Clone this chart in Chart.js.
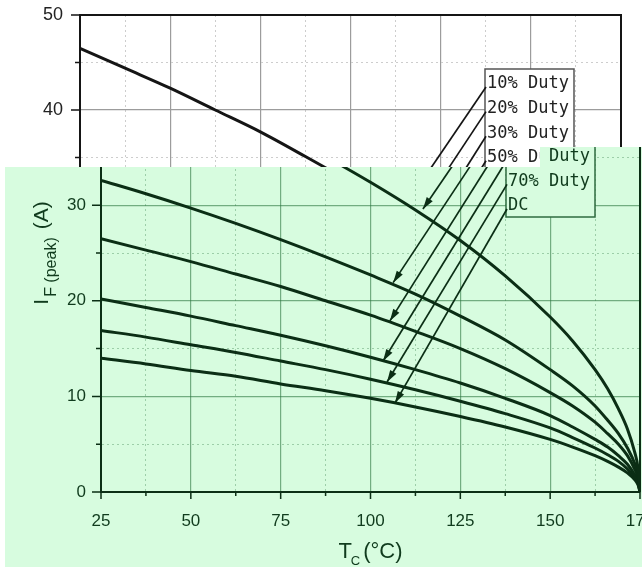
<!DOCTYPE html>
<html>
<head>
<meta charset="utf-8">
<script src="https://cdn.jsdelivr.net/npm/chart.js@4.4.1/dist/chart.umd.min.js"></script>
<style>
  html, body { margin: 0; padding: 0; background: #ffffff; }
  #wrap { position: relative; width: 642px; height: 567px; overflow: hidden; background: #ffffff; }
  #topChart, #mainChart { position: absolute; left: 0; top: 0; }
  /* the green copy only shows below the white strip, with a notch under "50% Du" */
  #mainChart { clip-path: polygon(5px 167px, 540px 167px, 540px 147px, 700px 147px, 700px 567px, 5px 567px); }
</style>
</head>
<body>
<div id="wrap">
  <canvas id="topChart" width="642" height="567"></canvas>
  <canvas id="mainChart" width="700" height="567"></canvas>
</div>
<script>
/* -------------------------------------------------------
 * DATA
 * ----------------------------------------------------- */
const tempC  = [25, 37.5, 50, 62.5, 75, 87.5, 100, 112.5, 125, 137.5, 150, 156.25, 162.5, 166, 169, 171.5, 173.5, 174.5, 175];
const duty10 = [46.5, 44.4, 42.3, 40.0, 37.7, 35.1, 32.4, 29.5, 26.3, 22.6, 18.3, 15.8, 12.8, 10.8, 8.7, 6.6, 4.2, 2.4, 0];
const duty20 = [32.6, 31.2, 29.7, 28.1, 26.4, 24.6, 22.7, 20.7, 18.4, 15.9, 12.8, 11.1, 9.0, 7.5, 6.1, 4.6, 3.0, 1.7, 0];
const duty30 = [26.5, 25.3, 24.1, 22.8, 21.5, 20.0, 18.5, 16.8, 15.0, 12.9, 10.4, 9.0, 7.3, 6.1, 5.0, 3.8, 2.4, 1.4, 0];
const duty50 = [20.2, 19.3, 18.4, 17.4, 16.4, 15.3, 14.1, 12.8, 11.4, 9.8, 8.0, 6.8, 5.5, 4.7, 3.8, 2.9, 1.8, 1.0, 0];
const duty70 = [16.9, 16.2, 15.4, 14.6, 13.7, 12.8, 11.8, 10.7, 9.5, 8.2, 6.7, 5.7, 4.6, 3.9, 3.2, 2.4, 1.5, 0.9, 0];
const dutyDC = [14.0, 13.4, 12.7, 12.1, 11.3, 10.6, 9.8, 8.9, 7.9, 6.8, 5.5, 4.7, 3.8, 3.2, 2.6, 2.0, 1.3, 0.7, 0];

const seriesLabels = ["10% Duty", "20% Duty", "30% Duty", "50% Duty", "70% Duty", "DC"];
const seriesData = [duty10, duty20, duty30, duty50, duty70, dutyDC];
// where each legend arrow lands (Tc, A)
const arrowTips = [[114.6, 29.6], [106.3, 21.9], [105.4, 17.9], [103.5, 13.7], [104.6, 11.5], [106.8, 9.3]];

const xMin = 25, xMax = 175, xStep = 12.5;
const yMin = 0, yMax = 50, yStep = 5;

const isMajorX = v => Math.abs(v % 25) < 1e-6;
const isMajorY = v => Math.abs(v % 10) < 1e-6;

/* -------------------------------------------------------
 * DECOR PLUGIN (background, frame, ticks, legend arrows, titles)
 * ----------------------------------------------------- */
const decorPlugin = {
    id: "decor",
    beforeDraw(chart, args, o) {
        const ctx = chart.ctx;
        ctx.save();
        ctx.fillStyle = o.bg;
        ctx.fillRect(0, 0, chart.width, chart.height);
        ctx.restore();
    },
    afterDatasetsDraw(chart, args, o) {
        const { ctx, chartArea: a, scales: { x, y } } = chart;
        ctx.save();

        // top + right frame
        ctx.strokeStyle = o.ink;
        ctx.lineWidth = 2;
        ctx.beginPath();
        ctx.moveTo(a.left, a.top);
        ctx.lineTo(a.right, a.top);
        ctx.lineTo(a.right, a.bottom);
        ctx.stroke();

        // outward ticks, minor ones shorter
        ctx.lineWidth = 1.5;
        ctx.beginPath();
        y.ticks.forEach(t => {
            const py = y.getPixelForValue(t.value);
            const len = isMajorY(t.value) ? 9 : 5;
            ctx.moveTo(a.left - len, py);
            ctx.lineTo(a.left, py);
        });
        x.ticks.forEach(t => {
            const px = x.getPixelForValue(t.value);
            const len = isMajorX(t.value) ? 7 : 4;
            ctx.moveTo(px, a.bottom);
            ctx.lineTo(px, a.bottom + len);
        });
        ctx.stroke();

        // legend box with leader arrows
        const boxL = a.left + 405, boxT = a.top + 54, boxW = 89, boxH = 149;
        ctx.fillStyle = o.boxFill;
        ctx.fillRect(boxL, boxT, boxW, boxH);
        ctx.strokeStyle = o.boxStroke;
        ctx.lineWidth = 1.5;
        ctx.strokeRect(boxL, boxT, boxW, boxH);

        ctx.font = '17px "DejaVu Sans Mono", "Liberation Mono", monospace';
        ctx.textBaseline = "middle";
        ctx.textAlign = "left";
        seriesLabels.forEach((label, i) => {
            const cy = boxT + 15 + i * 24.6;
            ctx.fillStyle = o.text;
            ctx.fillText(label, boxL + 2, cy);

            const ax = boxL + 1, ay = cy + 3;
            const tx = x.getPixelForValue(arrowTips[i][0]);
            const ty = y.getPixelForValue(arrowTips[i][1]);
            ctx.strokeStyle = o.ink;
            ctx.lineWidth = 1.7;
            ctx.beginPath();
            ctx.moveTo(ax, ay);
            ctx.lineTo(tx, ty);
            ctx.stroke();

            const len = Math.hypot(tx - ax, ty - ay);
            const dx = (tx - ax) / len, dy = (ty - ay) / len;
            const hl = 12, hw = 3.6;
            ctx.fillStyle = o.ink;
            ctx.beginPath();
            ctx.moveTo(tx, ty);
            ctx.lineTo(tx - dx * hl - dy * hw, ty - dy * hl + dx * hw);
            ctx.lineTo(tx - dx * hl + dy * hw, ty - dy * hl - dx * hw);
            ctx.closePath();
            ctx.fill();
        });

        // y title: I_F(peak) (A)
        ctx.fillStyle = o.text;
        ctx.textBaseline = "alphabetic";
        const fMain = '21px "Liberation Sans", Arial, sans-serif';
        const fSub = '16px "Liberation Sans", Arial, sans-serif';
        ctx.save();
        ctx.translate(a.left - 53, (a.top + a.bottom) / 2);
        ctx.rotate(-Math.PI / 2);
        ctx.font = fMain;
        const wI = ctx.measureText("I").width;
        const wA = ctx.measureText("(A)").width;
        ctx.font = fSub;
        const wS = ctx.measureText("F (peak)").width;
        let px = -(wI + 2 + wS + 8 + wA) / 2;
        ctx.font = fMain;
        ctx.fillText("I", px, 0);
        px += wI + 2;
        ctx.font = fSub;
        ctx.fillText("F (peak)", px, 8);
        px += wS + 8;
        ctx.font = fMain;
        ctx.fillText("(A)", px, 0);
        ctx.restore();

        // x title: T_C (°C)
        const fT = '22px "Liberation Sans", Arial, sans-serif';
        const fC = '13px "Liberation Sans", Arial, sans-serif';
        ctx.font = fT;
        const wT = ctx.measureText("T").width;
        const wU = ctx.measureText("(°C)").width;
        ctx.font = fC;
        const wC = ctx.measureText("C").width;
        let qx = (a.left + a.right) / 2 - (wT - 1 + wC + 3 + wU) / 2;
        const by = a.bottom + 66;
        ctx.font = fT;
        ctx.fillText("T", qx, by);
        qx += wT - 1;
        ctx.font = fC;
        ctx.fillText("C", qx, by + 7);
        qx += wC + 3;
        ctx.font = fT;
        ctx.fillText("(°C)", qx, by);

        ctx.restore();
    }
};

/* -------------------------------------------------------
 * CHART FACTORY
 * ----------------------------------------------------- */
function makeChart(canvasId, th) {
    const datasets = seriesData.map((vals, i) => ({
        label: seriesLabels[i],
        data: tempC.map((t, k) => ({ x: t, y: vals[k] })),
        borderColor: th.ink,
        borderWidth: 3,
        pointRadius: 0,
        fill: false,
        cubicInterpolationMode: "monotone"
    }));

    const tickFont = { family: '"Liberation Sans", Arial, sans-serif', size: th.tickSize };

    return new Chart(document.getElementById(canvasId), {
        type: "line",
        data: { datasets },
        options: {
            responsive: false,
            animation: false,
            layout: { padding: { left: 0, top: th.top, right: th.right, bottom: 0 } },
            plugins: {
                legend: { display: false },
                tooltip: { enabled: false },
                decor: th
            },
            scales: {
                x: {
                    type: "linear",
                    min: xMin, max: xMax,
                    afterFit: s => {
                        s.height = th.xHeight;
                        s.paddingLeft = 0;
                        s.paddingRight = 0;
                    },
                    ticks: {
                        stepSize: xStep, autoSkip: false, maxRotation: 0,
                        padding: 19, color: th.text, font: tickFont,
                        callback: v => isMajorX(v) ? v : ""
                    },
                    grid: {
                        drawTicks: false,
                        color: c => c.tick && isMajorX(c.tick.value) ? th.gridMajor : th.gridMinor,
                        lineWidth: c => c.tick && isMajorX(c.tick.value) ? 1.2 : 1
                    },
                    border: {
                        color: th.ink, width: 2,
                        dash: c => c.tick && !isMajorX(c.tick.value) ? [2, 3] : []
                    }
                },
                y: {
                    min: yMin, max: yMax,
                    afterFit: s => {
                        s.width = th.yWidth;
                        s.paddingTop = 0;
                        s.paddingBottom = 0;
                    },
                    ticks: {
                        stepSize: yStep, autoSkip: false,
                        padding: th.yPad, color: th.text, font: tickFont,
                        callback: v => isMajorY(v) ? v : ""
                    },
                    grid: {
                        drawTicks: false,
                        color: c => c.tick && isMajorY(c.tick.value) ? th.gridMajor : th.gridMinor,
                        lineWidth: c => c.tick && isMajorY(c.tick.value) ? 1.2 : 1
                    },
                    border: {
                        color: th.ink, width: 2,
                        dash: c => c.tick && !isMajorY(c.tick.value) ? [2, 3] : []
                    }
                }
            }
        },
        plugins: [decorPlugin]
    });
}

// white datasheet strip at the top
makeChart("topChart", {
    bg: "#ffffff", ink: "#151515", text: "#222222",
    gridMajor: "#9c9c9c", gridMinor: "#cdcdcd",
    boxFill: "#ffffff", boxStroke: "#555555",
    tickSize: 18, yPad: 17,
    top: 15, right: 21, yWidth: 80, xHeight: 77
});

// green copy, shifted a little right and down
makeChart("mainChart", {
    bg: "#d7fcdf", ink: "#0b2e15", text: "#103b1d",
    gridMajor: "rgba(46,120,66,0.6)", gridMinor: "rgba(46,120,66,0.35)",
    boxFill: "#d7fcdf", boxStroke: "#2f6b40",
    tickSize: 17, yPad: 15,
    top: 14, right: 60, yWidth: 101, xHeight: 75
});
</script>
</body>
</html>
